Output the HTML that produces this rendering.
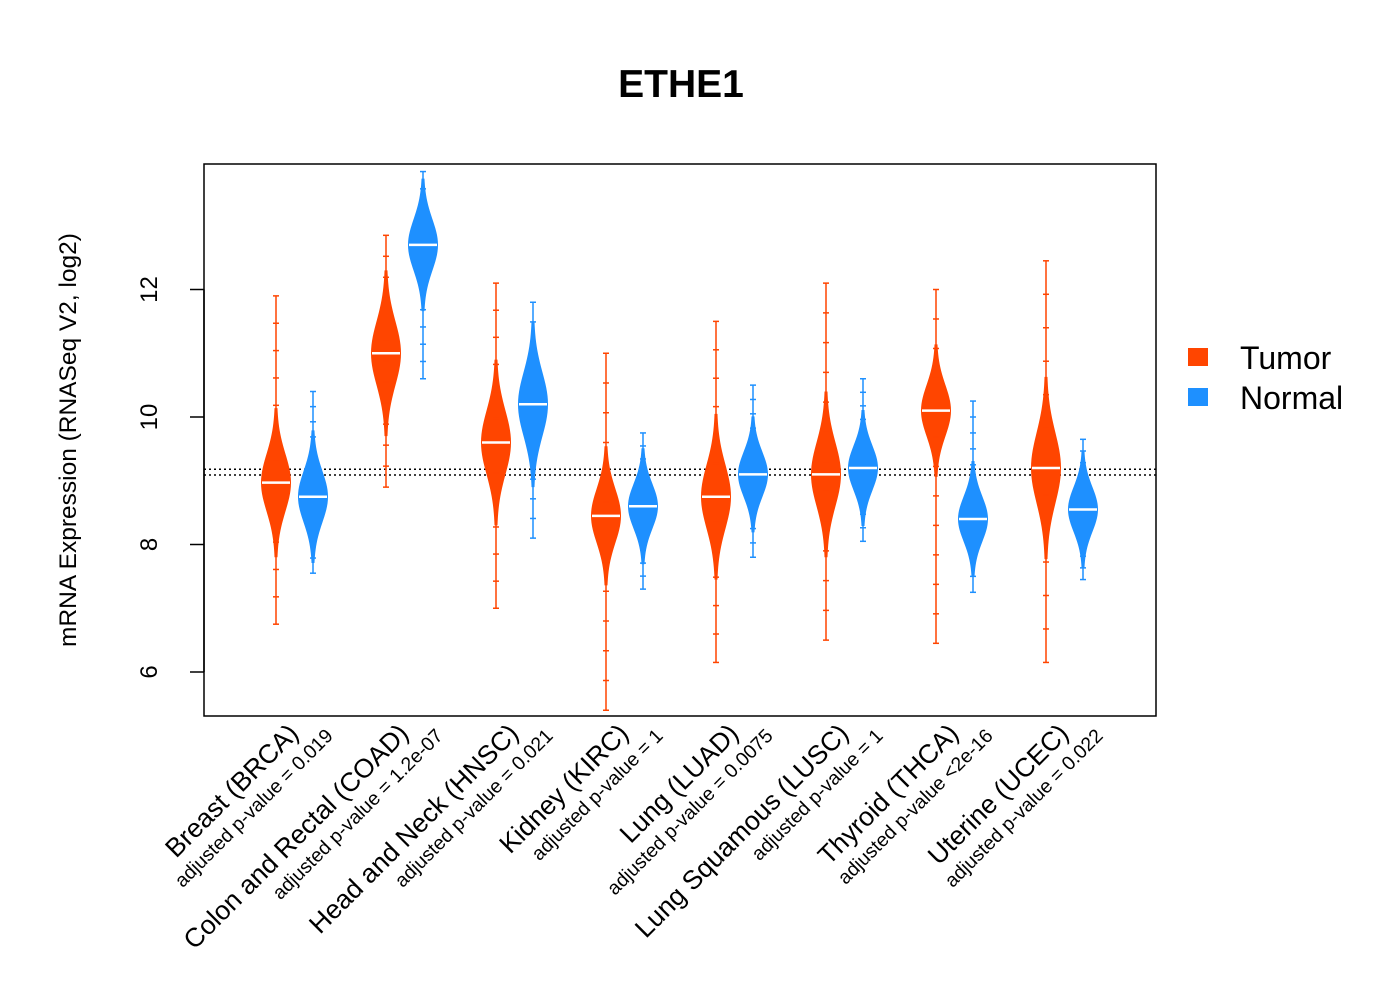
<!DOCTYPE html>
<html><head><meta charset="utf-8"><style>body{margin:0;background:#fff}svg{display:block;font-family:"Liberation Sans",Arial,sans-serif}</style></head>
<body>
<svg id="chart" width="1400" height="1000" viewBox="0 0 1400 1000">
<text x="681" y="97" font-size="39" font-weight="bold" text-anchor="middle">ETHE1</text>
<rect x="204" y="164" width="952" height="552" fill="none" stroke="#000" stroke-width="1.5"/>
<text transform="translate(76,440) rotate(-90)" font-size="24.5" text-anchor="middle">mRNA Expression (RNASeq V2, log2)</text>
<g id="yaxis"></g>
<g id="beans"></g>
<g id="xlabels"></g>
<g>
<rect x="1188" y="348" width="20" height="18" fill="#FF4500"/>
<text x="1240" y="369" font-size="32">Tumor</text>
<rect x="1188" y="388" width="20" height="18" fill="#1E90FF"/>
<text x="1240" y="409" font-size="32">Normal</text>
</g>
</svg>
<script>
const categories=["Breast (BRCA)","Colon and Rectal (COAD)","Head and Neck (HNSC)","Kidney (KIRC)","Lung (LUAD)","Lung Squamous (LUSC)","Thyroid (THCA)","Uterine (UCEC)"];
const pvalues=["adjusted p-value = 0.019","adjusted p-value = 1.2e-07","adjusted p-value = 0.021","adjusted p-value = 1","adjusted p-value = 0.0075","adjusted p-value = 1","adjusted p-value <2e-16","adjusted p-value = 0.022"];
const tumorMedian=[8.97,11.0,9.6,8.45,8.75,9.1,10.1,9.2];
const tumorMin=[6.75,8.9,7.0,5.4,6.15,6.5,6.45,6.15];
const tumorMax=[11.9,12.85,12.1,11.0,11.5,12.1,12.0,12.45];
const tumorSd=[0.45,0.5,0.5,0.42,0.5,0.5,0.4,0.55];
const normalMedian=[8.75,12.7,10.2,8.6,9.1,9.2,8.4,8.55];
const normalMin=[7.55,10.6,8.1,7.3,7.8,8.05,7.25,7.45];
const normalMax=[10.4,13.85,11.8,9.75,10.5,10.6,10.25,9.65];
const normalSd=[0.4,0.4,0.5,0.35,0.35,0.35,0.35,0.35];
const refLines=[9.18,9.09];
const yTicks=[6,8,10,12];
const NS="http://www.w3.org/2000/svg";
const y=v=>417-(v-10)*63.75;
const x=i=>276+i*110;
function mk(t,a,p){const e=document.createElementNS(NS,t);for(const k in a)e.setAttribute(k,a[k]);p.appendChild(e);return e;}
const ya=document.getElementById('yaxis');
mk('line',{x1:204,x2:204,y1:y(6),y2:y(12),stroke:'#000','stroke-width':1.5},ya);
yTicks.forEach(t=>{
 const l=mk('line',{x1:190,x2:204,y1:y(t),y2:y(t),stroke:'#000','stroke-width':1.5},ya);
 
 
 const tx=mk('text',{transform:`translate(157,${y(t)}) rotate(-90)`,'font-size':24,'text-anchor':'middle'},ya);
 tx.textContent=t;
 
 
});
const beans=document.getElementById('beans');
refLines.forEach(r=>{
 const l=mk('line',{x1:204,x2:1156,y1:y(r),y2:y(r),stroke:'#000','stroke-width':1.5,'stroke-dasharray':'2,3'},beans);
 
 
});
function bean(cx,med,mn,mx,sd,col,name){
 const g=mk('g',{},beans);
 
 
 mk('line',{x1:cx,x2:cx,y1:y(mn),y2:y(mx),stroke:col,'stroke-width':1.5},g);
 const lo=Math.max(mn,med-2.6*sd),hi=Math.min(mx,med+2.6*sd);
 let L=[],R=[];
 for(let k=0;k<=40;k++){const v=lo+(hi-lo)*k/40;const w=14*Math.exp(-0.5*((v-med)/sd)**2)+1;L.push([cx-w,y(v)]);R.push([cx+w,y(v)]);}
 const pts=L.concat(R.reverse()).map(p=>p.join(',')).join(' ');
 mk('polygon',{points:pts,fill:col},g);
 for(let k=0;k<=12;k++){const v=mn+(mx-mn)*k/12;mk('line',{x1:cx-3,x2:cx+3,y1:y(v),y2:y(v),stroke:col,'stroke-width':1.5},g);}
 mk('line',{x1:cx-14,x2:cx+14,y1:y(med),y2:y(med),stroke:'#fff','stroke-width':2.5},g);
}
categories.forEach((c,i)=>{
 bean(x(i),tumorMedian[i],tumorMin[i],tumorMax[i],tumorSd[i],'#FF4500','bean-tumor');
 bean(x(i)+37,normalMedian[i],normalMin[i],normalMax[i],normalSd[i],'#1E90FF','bean-normal');
 const xl=document.getElementById('xlabels');
 const t=mk('text',{transform:`translate(${x(i)+24},735) rotate(-45)`,'font-size':26.5,'text-anchor':'end'},xl);
 t.textContent=c;
 
 
 const p=mk('text',{transform:`translate(${x(i)+58},737) rotate(-45)`,'font-size':19.5,'text-anchor':'end'},xl);
 p.textContent=pvalues[i];
 
 
});
</script>
</body></html>
